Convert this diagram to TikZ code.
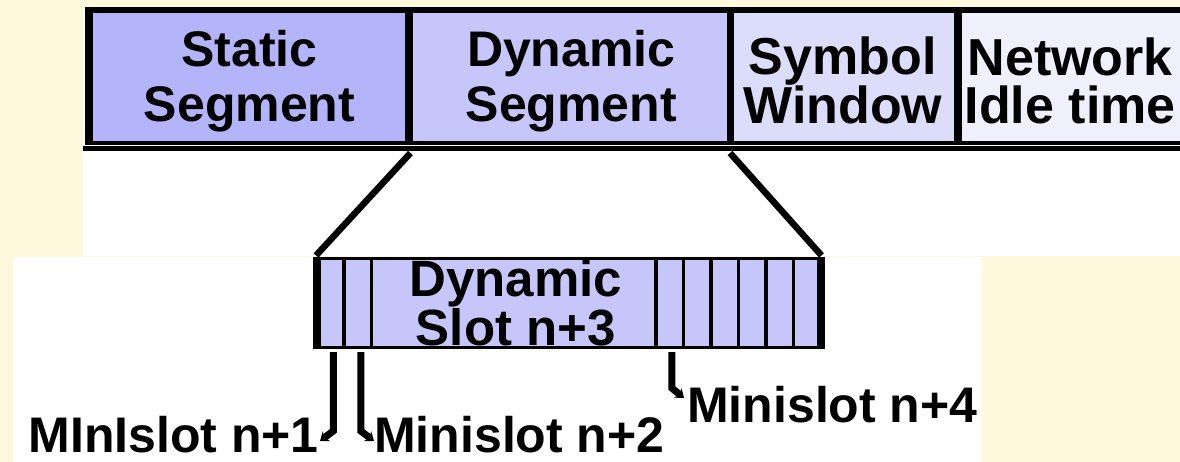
\documentclass[tikz,border=0pt]{standalone}
\usepackage{fontspec}
\setmainfont{Liberation Sans}
\usetikzlibrary{arrows.meta,calc}
\definecolor{cream}{HTML}{FFF8DC}
\definecolor{staticfill}{HTML}{B4B4FA}
\definecolor{dynfill}{HTML}{C6C6FB}
\definecolor{symfill}{HTML}{DCDCFB}
\definecolor{netfill}{HTML}{F0F0FD}
\tikzset{
  cellbox/.style={rectangle, inner sep=0pt, outer sep=0pt, anchor=north west, draw=none},
  toptext/.style={align=center, inner sep=0pt, font=\bfseries\fontsize{50}{55}\selectfont},
  sidetext/.style={align=center, inner sep=0pt, font=\bfseries\fontsize{52}{48}\selectfont},
  slottext/.style={align=center, inner sep=0pt, font=\bfseries\fontsize{51}{40}\selectfont},
  lbl/.style={inner sep=0pt, font=\bfseries\fontsize{50}{50}\selectfont},
  heavy/.style={line width=8pt},
  thinrule/.style={line width=3pt},
  divider/.style={line width=3.5pt},
  link/.style={line width=6.5pt},
  leader/.style={line width=7pt, -{Stealth[length=8pt,width=12pt]}},
}
\begin{document}
\begin{tikzpicture}[x=1pt,y=-1pt]
\useasboundingbox (0,0) rectangle (1180,462);
\clip (0,0) rectangle (1180,462);
% page and panels
\fill[cream] (0,0) rectangle (1180,462);
\fill[white] (83,7) rectangle (1180,256.5);
\fill[white] (13,257.5) rectangle (982,462);

% ---- communication cycle bar ----
\node[cellbox, fill=staticfill, minimum width=320pt,   minimum height=133pt] (static)  at (88.5,10) {};
\node[cellbox, fill=dynfill,    minimum width=321.5pt, minimum height=133pt] (dynamic) at (408.5,10) {};
\node[cellbox, fill=symfill,    minimum width=227.5pt, minimum height=133pt] (symbol)  at (730,10) {};
\node[cellbox, fill=netfill,    minimum width=290pt,   minimum height=133pt] (network) at (957.5,10) {};

\node[toptext] (tstatic)  at ($(static.center)+(1,5)$)  {Static\\Segment};
\node[toptext] (tdynamic) at ($(dynamic.center)+(2,5)$) {Dynamic\\Segment};
\node[sidetext] (tsymbol)  at ($(symbol.center)+(-1,4)$) {Symbol\\Window};
\node[sidetext, anchor=west] (tnetwork) at ($(network.west)+(7,4)$) {Network\\Idle time};

% outline of the bar
\draw[line width=6.5pt] ($(static.north west)+(-4,0)$) -- (network.north east);
\draw[heavy] ($(static.north west)+(0,-3)$) -- ($(static.south west)+(0,1.5)$);
\draw[heavy] (dynamic.north west) -- (dynamic.south west);
\draw[line width=7pt] (symbol.north west) -- (symbol.south west);
\draw[heavy] (network.north west) -- (network.south west);
\draw[line width=3.5pt] ($(static.south west)+(-4,0)$) -- (network.south east);
\draw[line width=4.5pt] (83,148.5) -- (1180,148.5);

% ---- dynamic segment in detail ----
\node[cellbox, fill=dynfill, minimum width=27.5pt, minimum height=88.5pt] (ms1) at (316.5,258.5) {};
\node[cellbox, fill=dynfill, minimum width=27.5pt, minimum height=88.5pt] (ms2) at (ms1.north east) {};
\node[cellbox, fill=dynfill, minimum width=284.5pt, minimum height=88.5pt] (dslot) at (ms2.north east) {};
\node[cellbox, fill=dynfill, minimum width=27.5pt, minimum height=88.5pt] (r1) at (dslot.north east) {};
\foreach \p/\c in {r1/r2,r2/r3,r3/r4,r4/r5,r5/r6}
  \node[cellbox, fill=dynfill, minimum width=27.5pt, minimum height=88.5pt] (\c) at (\p.north east) {};

\node[slottext] (tslot) at ($(dslot.center)+(2,0)$) {Dynamic\\Slot n+3};

\draw[thinrule] (ms1.north west) -- (r6.north east);
\draw[thinrule] (ms1.south west) -- (r6.south east);
\foreach \c in {ms2,dslot,r1,r2,r3,r4,r5,r6}
  \draw[divider] (\c.north west) -- (\c.south west);
\draw[heavy] ($(ms1.north west)+(0,-1.5)$) -- ($(ms1.south west)+(0,1.5)$);
\draw[heavy] ($(r6.north east)+(0,-1.5)$) -- ($(r6.south east)+(0,1.5)$);

% zoom lines from the dynamic segment
\draw[link] ($(dynamic.south west)+(2,10)$) -- ($(ms1.north west)+(-0.5,-3)$);
\draw[link] ($(dynamic.south east)+(0,10)$) -- ($(r6.north east)+(0.5,-3)$);

% minislot labels with leaders
\coordinate (tip1) at (320,441);
\coordinate (tip2) at (374,441);
\coordinate (tip4) at (684,398);
\node[lbl, anchor=base east] (lab1) at ($(tip1)+(-1,11)$) {MInIslot n+1};
\node[lbl, anchor=base west] (lab2) at ($(tip2)+(0,11)$) {Minislot n+2};
\node[lbl, anchor=base west] (lab4) at ($(tip4)+(3,24)$) {Minislot n+4};

\draw[leader] ($(ms1.south)+(3,5)$) -- ($(ms1.south)+(3,84)$) -- (tip1);
\draw[leader] ($(ms2.south)+(3,5)$) -- ($(ms2.south)+(3,84)$) -- (tip2);
\draw[leader] ($(r1.south)+(2,5)$) -- ($(r1.south)+(2,41)$) -- (tip4);
\end{tikzpicture}
\end{document}
